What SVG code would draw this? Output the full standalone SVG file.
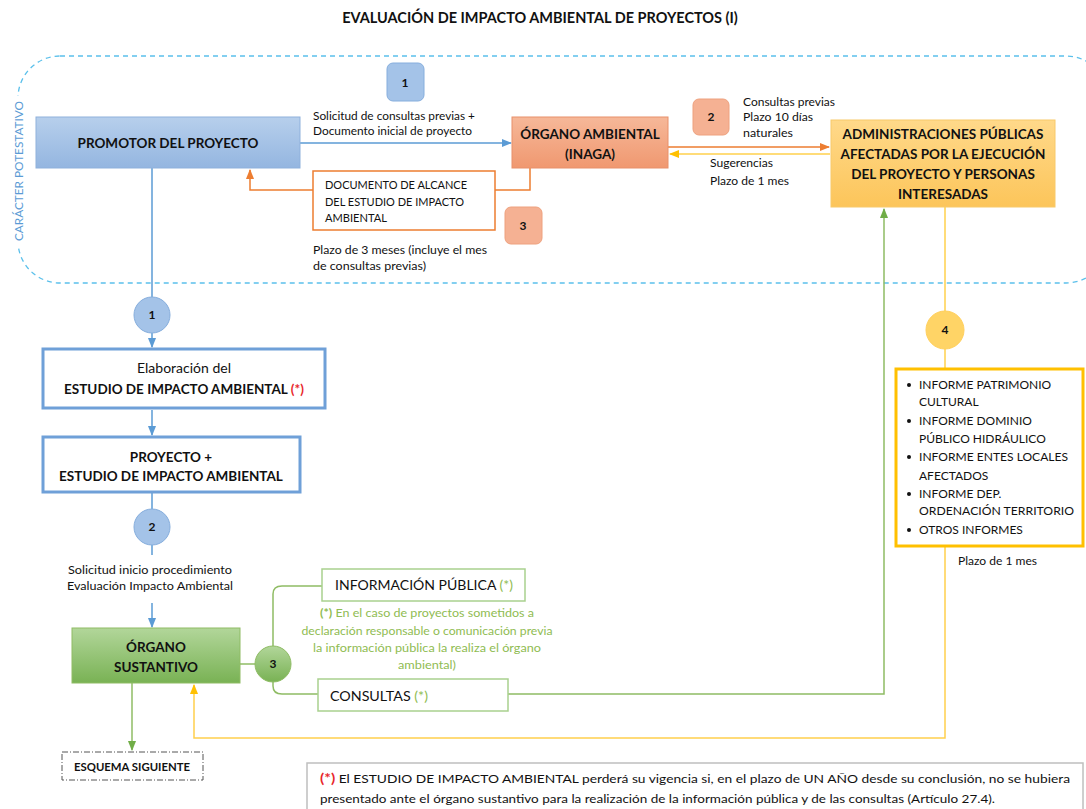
<svg xmlns="http://www.w3.org/2000/svg" width="1086" height="809" viewBox="0 0 1086 809">
<defs>
<linearGradient id="gBlue" x1="0" y1="0" x2="0" y2="1"><stop offset="0" stop-color="#b7cfec"/><stop offset="1" stop-color="#94b6e0"/></linearGradient>
<linearGradient id="gOrange" x1="0" y1="0" x2="0" y2="1"><stop offset="0" stop-color="#f6b899"/><stop offset="1" stop-color="#f09870"/></linearGradient>
<linearGradient id="gYellow" x1="0" y1="0" x2="0" y2="1"><stop offset="0" stop-color="#ffd98a"/><stop offset="1" stop-color="#fcc55a"/></linearGradient>
<linearGradient id="gGreen" x1="0" y1="0" x2="0" y2="1"><stop offset="0" stop-color="#b2d69a"/><stop offset="1" stop-color="#79b254"/></linearGradient>
<marker id="aBlue" viewBox="0 0 10 10" refX="9" refY="5" markerWidth="7" markerHeight="7" orient="auto-start-reverse"><path d="M0,1 L10,5 L0,9 z" fill="#5b9bd5"/></marker>
<marker id="aOrange" viewBox="0 0 10 10" refX="9" refY="5" markerWidth="7" markerHeight="7" orient="auto-start-reverse"><path d="M0,1 L10,5 L0,9 z" fill="#ed7d31"/></marker>
<marker id="aYellow" viewBox="0 0 10 10" refX="9" refY="5" markerWidth="7" markerHeight="7" orient="auto-start-reverse"><path d="M0,1 L10,5 L0,9 z" fill="#ffc000"/></marker>
<marker id="aGreen" viewBox="0 0 10 10" refX="9" refY="5" markerWidth="7" markerHeight="7" orient="auto-start-reverse"><path d="M0,1 L10,5 L0,9 z" fill="#70ad47"/></marker>
</defs>
<style>
text{font-family:Lato,"Liberation Sans",sans-serif;fill:#111111}
.b{font-weight:bold}
.bx{font-size:13.5px;font-weight:bold}
.t12{font-size:12px}
.t11{font-size:12px}
.sm{font-size:11px}
.c{text-anchor:middle}
.red{fill:#e8262b}
.grn{fill:#8fbc52}
.lb{fill:none;stroke:#5b9bd5;stroke-width:1.5}
.lo{fill:none;stroke:#ed7d31;stroke-width:1.5}
.ly{fill:none;stroke:#ffd04d;stroke-width:1.5}
.lg{fill:none;stroke:#8fbc64;stroke-width:1.5}
</style>
<rect width="1086" height="809" fill="#ffffff"/>

<text x="540" y="23" class="b c" font-size="14.5">EVALUACIÓN DE IMPACTO AMBIENTAL DE PROYECTOS (I)</text>

<g id="potestativo">
<rect x="18" y="56" width="1090" height="227" rx="42" fill="none" stroke="#5bc0eb" stroke-width="1.3" stroke-dasharray="5,4"/>
<rect x="12" y="96" width="14" height="150" fill="#ffffff"/>
<text transform="translate(23,171) rotate(-90)" class="c" font-size="11" textLength="140" lengthAdjust="spacingAndGlyphs" style="fill:#5b9bd5">CARÁCTER POTESTATIVO</text>
</g>

<g id="connectors">
<line x1="300" y1="143" x2="511" y2="143" class="lb" marker-end="url(#aBlue)"/>
<line x1="668" y1="147" x2="829" y2="147" class="lo" marker-end="url(#aOrange)"/>
<line x1="830" y1="154" x2="670" y2="154" class="ly" marker-end="url(#aYellow)"/>
<polyline points="530,168 530,190 250,190 250,170" class="lo" marker-end="url(#aOrange)"/>
<line x1="152" y1="168" x2="152" y2="297" class="lb"/>
<line x1="152" y1="333" x2="152" y2="347" class="lb" marker-end="url(#aBlue)"/>
<line x1="152" y1="410" x2="152" y2="435" class="lb" marker-end="url(#aBlue)"/>
<line x1="152" y1="492" x2="152" y2="509" class="lb"/>
<line x1="152" y1="545" x2="152" y2="555" class="lb"/>
<line x1="152" y1="603" x2="152" y2="627" class="lb" marker-end="url(#aBlue)"/>
<line x1="240" y1="664" x2="256" y2="664" class="lg"/>
<path d="M273,646 V594 Q273,586 282,586 H322" class="lg"/>
<path d="M273,682 V686 Q273,694 282,694 H318" class="lg"/>
<polyline points="508,694 884,694 884,209" class="lg" marker-end="url(#aGreen)"/>
<line x1="945" y1="207" x2="945" y2="311" class="ly"/>
<line x1="945" y1="349" x2="945" y2="368" class="ly"/>
<polyline points="945,546 945,738 194,738 194,685" class="ly" marker-end="url(#aYellow)"/>
<line x1="132" y1="683" x2="132" y2="750" class="lg" marker-end="url(#aGreen)"/>
</g>

<g id="badge1">
<rect x="387" y="63" width="37" height="38" rx="6" fill="#a4c3e8" stroke="#86aedd"/>
<text x="405" y="87" class="b c t12">1</text>
</g>
<g id="label1">
<text x="313" y="120" class="sm" textLength="162" lengthAdjust="spacingAndGlyphs">Solicitud de consultas previas +</text>
<text x="313" y="135" class="sm" textLength="159" lengthAdjust="spacingAndGlyphs">Documento inicial de proyecto</text>
</g>

<g id="promotor">
<rect x="36" y="117" width="264" height="51" fill="url(#gBlue)" stroke="#8fb1dc"/>
<text x="168" y="148" class="bx c">PROMOTOR DEL PROYECTO</text>
</g>

<g id="organoAmbiental">
<rect x="512" y="117" width="156" height="51" fill="url(#gOrange)" stroke="#e8906a"/>
<text x="590" y="139" class="bx c">ÓRGANO AMBIENTAL</text>
<text x="590" y="159" class="bx c">(INAGA)</text>
</g>

<g id="badge2">
<rect x="693" y="99" width="36" height="36" rx="6" fill="#f5b193" stroke="#eea17e"/>
<text x="711" y="121" class="b c t12">2</text>
</g>
<g id="label2">
<text x="743" y="106" class="sm" textLength="92" lengthAdjust="spacingAndGlyphs">Consultas previas</text>
<text x="743" y="121" class="sm" textLength="70" lengthAdjust="spacingAndGlyphs">Plazo 10 días</text>
<text x="743" y="137" class="sm" textLength="50" lengthAdjust="spacingAndGlyphs">naturales</text>
</g>
<g id="labelSug">
<text x="710" y="167" class="sm" textLength="63" lengthAdjust="spacingAndGlyphs">Sugerencias</text>
<text x="710" y="185" class="sm" textLength="79" lengthAdjust="spacingAndGlyphs">Plazo de 1 mes</text>
</g>

<g id="administraciones">
<rect x="831" y="120" width="224" height="87" fill="url(#gYellow)" stroke="#f8c96a"/>
<text x="943" y="139" class="bx c">ADMINISTRACIONES PÚBLICAS</text>
<text x="943" y="159" class="bx c">AFECTADAS POR LA EJECUCIÓN</text>
<text x="943" y="179" class="bx c">DEL PROYECTO Y PERSONAS</text>
<text x="943" y="199" class="bx c">INTERESADAS</text>
</g>

<g id="documentoAlcance">
<rect x="313" y="171" width="182" height="59" fill="#ffffff" stroke="#ed7d31" stroke-width="1.5"/>
<text x="325" y="189" class="sm" textLength="142" lengthAdjust="spacingAndGlyphs">DOCUMENTO DE ALCANCE</text>
<text x="325" y="206" class="sm" textLength="139" lengthAdjust="spacingAndGlyphs">DEL ESTUDIO DE IMPACTO</text>
<text x="325" y="222" class="sm" textLength="62" lengthAdjust="spacingAndGlyphs">AMBIENTAL</text>
</g>

<g id="badge3">
<rect x="505" y="207" width="37" height="37" rx="6" fill="#f5b193" stroke="#eea17e"/>
<text x="523" y="230" class="b c t12">3</text>
</g>
<g id="label3">
<text x="313" y="254" class="sm" textLength="174" lengthAdjust="spacingAndGlyphs">Plazo de 3 meses (incluye el mes</text>
<text x="313" y="270" class="sm" textLength="113" lengthAdjust="spacingAndGlyphs">de consultas previas)</text>
</g>

<g id="circ1">
<circle cx="152" cy="315" r="18" fill="#a4c3e8" stroke="#86aedd"/>
<text x="152" y="319" class="b c t12">1</text>
</g>

<g id="elaboracion">
<rect x="43" y="349" width="282" height="59" fill="#ffffff" stroke="#6fa0d8" stroke-width="3"/>
<text x="184" y="373" class="c" font-size="14">Elaboración del</text>
<text x="184" y="394" class="bx c">ESTUDIO DE IMPACTO AMBIENTAL <tspan class="red">(*)</tspan></text>
</g>

<g id="proyecto">
<rect x="43" y="437" width="257" height="55" fill="#ffffff" stroke="#6fa0d8" stroke-width="3"/>
<text x="171" y="462" class="bx c">PROYECTO +</text>
<text x="171" y="481" class="bx c">ESTUDIO DE IMPACTO AMBIENTAL</text>
</g>

<g id="circ2">
<circle cx="152" cy="527" r="18" fill="#a4c3e8" stroke="#86aedd"/>
<text x="152" y="531" class="b c t12">2</text>
</g>
<g id="labelSolicitud">
<text x="150" y="574" class="c sm" textLength="164" lengthAdjust="spacingAndGlyphs">Solicitud inicio procedimiento</text>
<text x="150" y="590" class="c sm" textLength="166" lengthAdjust="spacingAndGlyphs">Evaluación Impacto Ambiental</text>
</g>

<g id="organoSustantivo">
<rect x="72" y="628" width="168" height="55" fill="url(#gGreen)" stroke="#8fbc64"/>
<text x="156" y="652" class="bx c">ÓRGANO</text>
<text x="156" y="672" class="bx c">SUSTANTIVO</text>
</g>

<g id="circ3">
<circle cx="273" cy="664" r="18" fill="url(#gGreen)" stroke="#8fbc64"/>
<text x="273" y="668" class="b c t12">3</text>
</g>

<g id="infoPublica">
<rect x="322" y="569" width="203" height="32" fill="#ffffff" stroke="#a9d18e" stroke-width="1.5"/>
<text x="335" y="590" font-size="13.5" textLength="178" lengthAdjust="spacingAndGlyphs">INFORMACIÓN PÚBLICA <tspan class="grn">(*)</tspan></text>
</g>
<g id="notaInfo">
<text x="427" y="617" class="c sm grn" textLength="214" lengthAdjust="spacingAndGlyphs"><tspan class="b">(*)</tspan> En el caso de proyectos sometidos a</text>
<text x="427" y="635" class="c sm grn" textLength="251" lengthAdjust="spacingAndGlyphs">declaración responsable o comunicación previa</text>
<text x="427" y="652" class="c sm grn" textLength="228" lengthAdjust="spacingAndGlyphs">la información pública la realiza el órgano</text>
<text x="427" y="669" class="c sm grn" textLength="58" lengthAdjust="spacingAndGlyphs">ambiental)</text>
</g>

<g id="consultas">
<rect x="318" y="679" width="190" height="32" fill="#ffffff" stroke="#a9d18e" stroke-width="1.5"/>
<text x="330" y="701" font-size="13.5" textLength="98" lengthAdjust="spacingAndGlyphs">CONSULTAS <tspan class="grn">(*)</tspan></text>
</g>

<g id="circ4">
<circle cx="945" cy="330" r="19" fill="#ffd466" stroke="#ffcf5a"/>
<text x="945" y="334" class="b c t12">4</text>
</g>

<g id="informes">
<rect x="896" y="369" width="187" height="177" fill="#ffffff" stroke="#ffc000" stroke-width="3"/>
<g font-size="12">
<circle cx="909" cy="385" r="2" fill="#111111"/>
<text x="919" y="389">INFORME PATRIMONIO</text>
<text x="919" y="406">CULTURAL</text>
<circle cx="909" cy="421" r="2" fill="#111111"/>
<text x="919" y="425">INFORME DOMINIO</text>
<text x="919" y="443">PÚBLICO HIDRÁULICO</text>
<circle cx="909" cy="457" r="2" fill="#111111"/>
<text x="919" y="461" textLength="149" lengthAdjust="spacingAndGlyphs">INFORME ENTES LOCALES</text>
<text x="919" y="480">AFECTADOS</text>
<circle cx="909" cy="494" r="2" fill="#111111"/>
<text x="919" y="498">INFORME DEP.</text>
<text x="919" y="515" textLength="155" lengthAdjust="spacingAndGlyphs">ORDENACIÓN TERRITORIO</text>
<circle cx="909" cy="530" r="2" fill="#111111"/>
<text x="919" y="534">OTROS INFORMES</text>
</g>
</g>
<g id="label4">
<text x="958" y="565" class="sm" textLength="79" lengthAdjust="spacingAndGlyphs">Plazo de 1 mes</text>
</g>

<g id="esquema">
<rect x="62" y="752" width="141" height="28" fill="#ffffff" stroke="#555555" stroke-dasharray="6,2,1,2"/>
<text x="132" y="771" class="b c sm" textLength="116" lengthAdjust="spacingAndGlyphs">ESQUEMA SIGUIENTE</text>
</g>

<g id="nota">
<rect x="307" y="763" width="776" height="50" fill="#ffffff" stroke="#bfbfbf" stroke-width="1.5"/>
<text x="320" y="783" font-size="11.5" textLength="750" lengthAdjust="spacingAndGlyphs"><tspan class="b red" font-size="13">(*)</tspan> El ESTUDIO DE IMPACTO AMBIENTAL perderá su vigencia si, en el plazo de UN AÑO desde su conclusión, no se hubiera</text>
<text x="320" y="803" font-size="11.5" textLength="675" lengthAdjust="spacingAndGlyphs">presentado ante el órgano sustantivo para la realización de la información pública y de las consultas (Artículo 27.4).</text>
</g>
</svg>
